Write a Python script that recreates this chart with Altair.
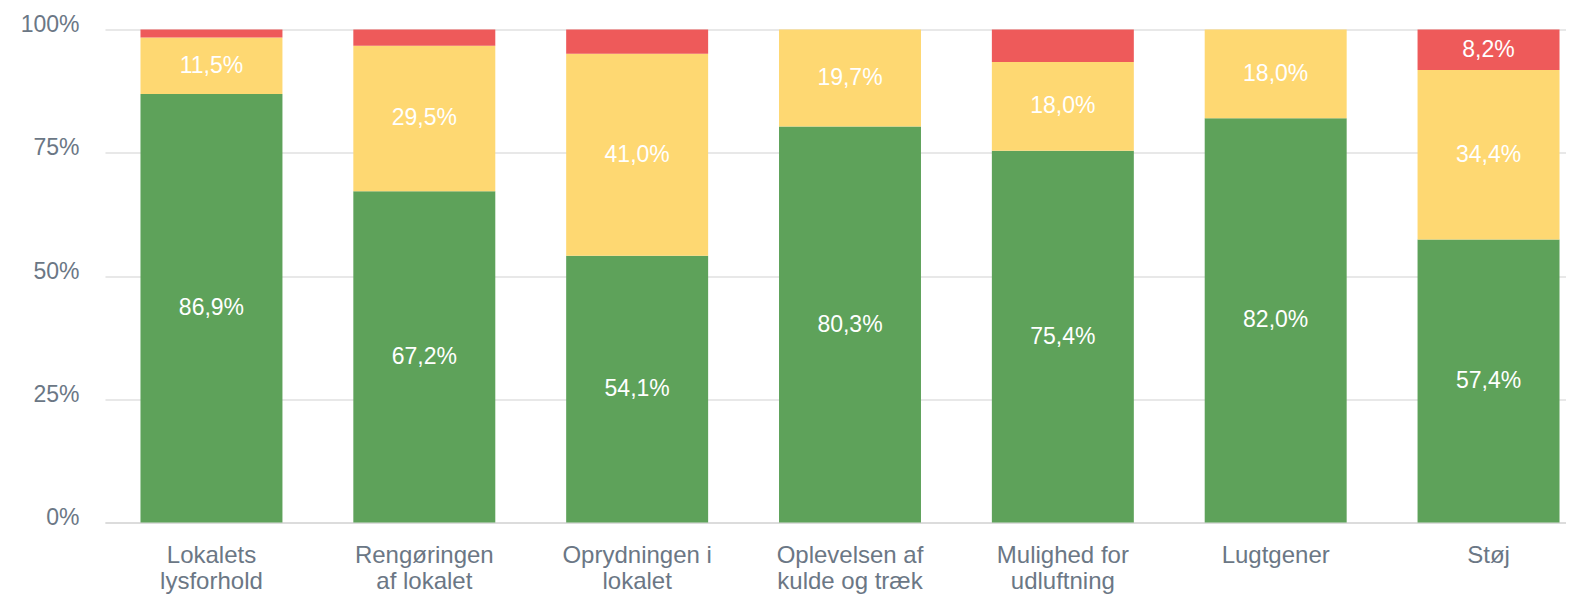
import altair as alt
import pandas as pd

categories = ["Lokalets lysforhold", "Rengøringen af lokalet", "Oprydningen i lokalet",
              "Oplevelsen af kulde og træk", "Mulighed for udluftning", "Lugtgener", "Støj"]
label_lines = [["Lokalets", "lysforhold"], ["Rengøringen", "af lokalet"], ["Oprydningen i", "lokalet"],
               ["Oplevelsen af", "kulde og træk"], ["Mulighed for", "udluftning"], ["Lugtgener"], ["Støj"]]
green = [86.9, 67.2, 54.1, 80.3, 75.4, 82.0, 57.4]
yellow = [11.5, 29.5, 41.0, 19.7, 18.0, 18.0, 34.4]
red = [1.6, 3.3, 4.9, 0.0, 6.6, 0.0, 8.2]
series = ["Tilfreds", "Hverken/eller", "Utilfreds"]
colors = ["#5ea25a", "#fed872", "#ee5a5a"]
y_ticks = [0, 25, 50, 75, 100]

rows = []
for i, c in enumerate(categories):
    for j, (s, vals) in enumerate(zip(series, [green, yellow, red])):
        rows.append({"category": c, "series": s, "value": vals[i], "order": j})
df = pd.DataFrame(rows)

FONT = "Liberation Sans"
TEXT = "#6b7785"

# multi-line x labels
expr = "datum.value"
for c, lines in reversed(list(zip(categories, label_lines))):
    arr = "[" + ",".join("'" + l + "'" for l in lines) + "]"
    expr = f"datum.value == '{c}' ? {arr} : ({expr})"

x_scale = alt.Scale(paddingInner=0.333, paddingOuter=0.1667, range=[0, 1490])

x_enc = alt.X(
    "category:N", sort=categories, scale=x_scale,
    axis=alt.Axis(title=None, labelExpr=expr, labelAngle=0, labelFontSize=24, labelFont=FONT,
                  labelColor=TEXT, labelLineHeight=26, labelPadding=21, ticks=False,
                  domainColor="#d8d8d8", domainWidth=1.5, labelBaseline="top"),
)
y_scale = alt.Scale(domain=[0, 100], nice=False)

bars = alt.Chart(df).mark_bar().encode(
    x=x_enc,
    y=alt.Y("value:Q", stack="zero", scale=y_scale,
            axis=alt.Axis(values=y_ticks, labelExpr="datum.value + '%'", grid=True,
                          gridColor="#e0e0e0", gridWidth=1.5, domain=False, ticks=False, title=None,
                          labelFontSize=23, labelFont=FONT, labelColor=TEXT,
                          labelPadding=26, labelOffset=-5)),
    color=alt.Color("series:N", scale=alt.Scale(domain=series, range=colors), legend=None),
    order=alt.Order("order:Q", sort="ascending"),
)

labels = alt.Chart(df).transform_stack(
    stack="value", groupby=["category"], as_=["v0", "v1"],
    sort=[alt.SortField("order", "ascending")],
).transform_calculate(
    mid="(datum.v0 + datum.v1) / 2",
    txt="replace(format(datum.value, '.1f'), '.', ',') + '%'",
).transform_filter("datum.value >= 8").mark_text(
    color="white", fontSize=23, font=FONT, baseline="middle", align="center"
).encode(
    x=alt.X("category:N", sort=categories),
    y=alt.Y("mid:Q", scale=y_scale),
    text="txt:N",
)

chart = alt.layer(bars, labels).properties(
    width=1461, height=493,
    padding={"left": 97, "top": 21.5, "right": 0, "bottom": 72.5},
    autosize=alt.AutoSizeParams(type="none"),
).configure_view(stroke=None)

chart.save("out.html", embed_options={"renderer": "svg", "actions": False})
